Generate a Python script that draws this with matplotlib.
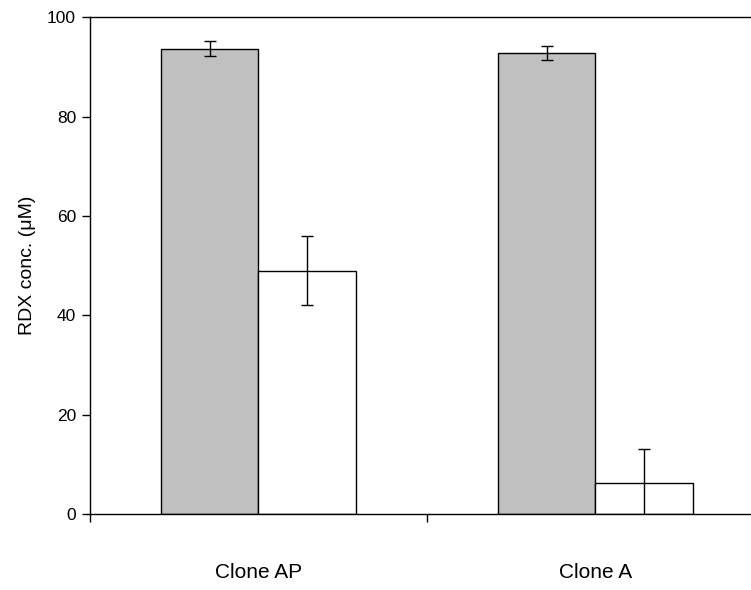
import numpy as np
import matplotlib.pyplot as plt

plt.rcParams['font.family'] = ['Liberation Sans', 'DejaVu Sans']

# RDX remaining per clone: grey = first series, white = second series
clones = ['Clone AP', 'Clone A']
grey_vals = [93.7, 92.8]
grey_err = [1.5, 1.4]
white_vals = [49.0, 6.2]
white_err = [6.9, 6.8]

fig = plt.figure(figsize=(7.51, 5.9), dpi=100)
ax = fig.add_axes([0.1198, 0.1288, 0.8975, 0.8419])

x = np.arange(len(clones))
w = 0.288

ax.bar(x - w / 2, grey_vals, w, color='#c0c0c0', edgecolor='black', linewidth=1.0, zorder=2)
ax.bar(x + w / 2, white_vals, w, color='white', edgecolor='black', linewidth=1.0, zorder=2)
ax.errorbar(x - w / 2, grey_vals, yerr=grey_err, fmt='none', ecolor='black',
            elinewidth=1.0, capsize=4, capthick=1.0, zorder=3)
ax.errorbar(x + w / 2, white_vals, yerr=white_err, fmt='none', ecolor='black',
            elinewidth=1.0, capsize=4, capthick=1.0, zorder=3)

ax.set_xlim(-0.5, 1.5)
ax.set_ylim(0, 100)
ax.set_yticks([0, 20, 40, 60, 80, 100])
ax.tick_params(axis='y', direction='out', length=6, width=1, labelsize=12.5, pad=4)

# category boundaries get the tick marks, names sit on minor ticks in between
ax.set_xticks([-0.5, 0.5, 1.5])
ax.set_xticklabels([])
ax.set_xticks(x, minor=True)
ax.set_xticklabels(clones, minor=True)
ax.tick_params(axis='x', which='major', direction='out', length=6, width=1)
ax.tick_params(axis='x', which='minor', length=0, labelsize=15, pad=35)

for s in ax.spines.values():
    s.set_linewidth(1.0)

ax.set_ylabel('RDX conc. (μM)', fontsize=14, labelpad=8)

fig.savefig('out.png', dpi=100)
